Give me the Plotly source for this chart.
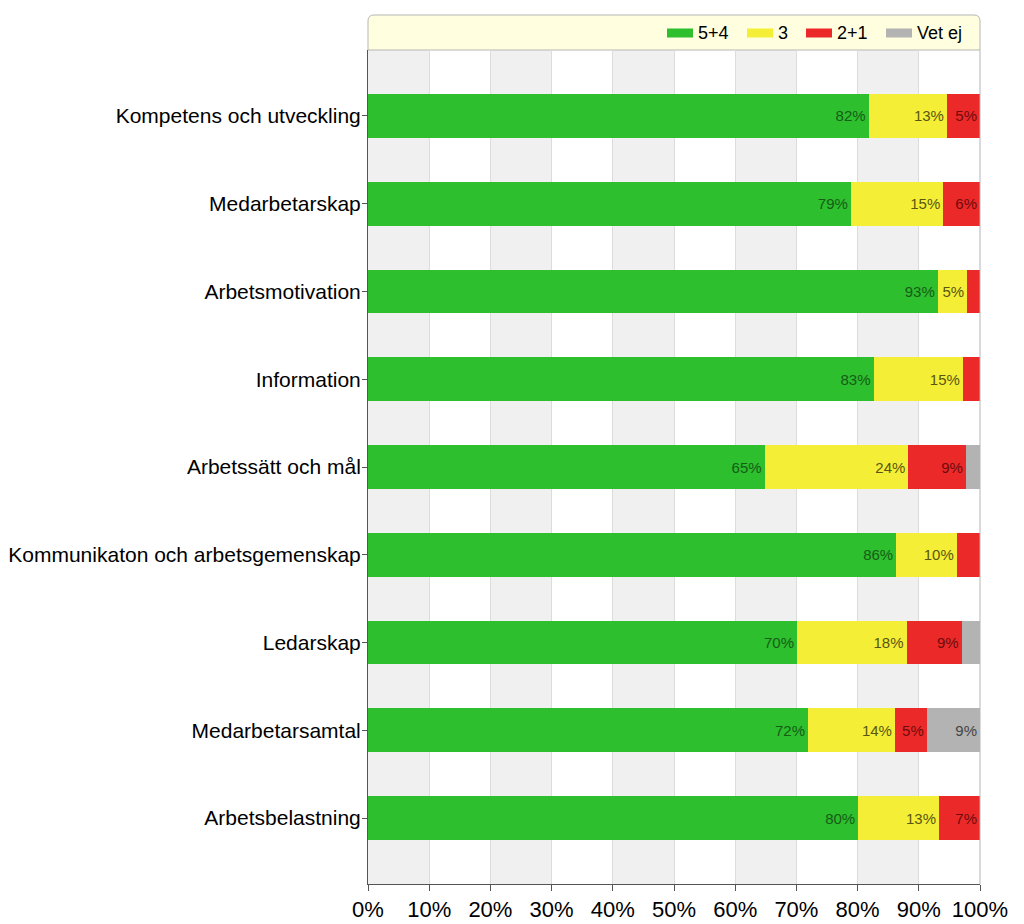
import plotly.graph_objects as go

categories = ["Kompetens och utveckling", "Medarbetarskap", "Arbetsmotivation", "Information",
              "Arbetssätt och mål", "Kommunikaton och arbetsgemenskap", "Ledarskap",
              "Medarbetarsamtal", "Arbetsbelastning"]
s54 = [81.8, 78.9, 93.1, 82.6, 64.8, 86.3, 70.1, 71.9, 80.1]
s3 = [12.8, 15.1, 4.8, 14.6, 23.5, 9.9, 17.9, 14.2, 13.2]
s21 = [5.4, 6.0, 2.1, 2.8, 9.4, 3.8, 9.0, 5.2, 6.7]
vet = [0.0, 0.0, 0.0, 0.0, 2.3, 0.0, 3.0, 8.7, 0.0]
series_names = ["5+4", "3", "2+1", "Vet ej"]
colors = ["#2dbf2d", "#f4ef36", "#ec2929", "#b3b3b3"]
text_colors = ["#175c17", "#5a5510", "#6e0c0c", "#444444"]
ticks = [0, 10, 20, 30, 40, 50, 60, 70, 80, 90, 100]
ticklabels = [f"{t}%" for t in ticks]

FONT = "Liberation Sans, Arial, sans-serif"
fig = go.Figure()
for name, vals, col, tcol in zip(series_names, [s54, s3, s21, vet], colors, text_colors):
    txt = [f"{round(v)}%" if v >= 4.5 else "" for v in vals]
    fig.add_trace(go.Bar(
        y=categories, x=vals, name=name, orientation="h",
        marker=dict(color=col, line=dict(width=0)),
        text=txt, textposition="inside", insidetextanchor="end",
        textfont=dict(color=tcol, size=15, family=FONT),
        constraintext="none", width=0.5, hoverinfo="x+name",
        showlegend=False,
    ))

PW, PH = 612.0, 834.0
def px(x):
    return (x - 368) / PW
def py(y):
    return (884 - y) / PH

shapes = []
for i in range(0, 100, 20):
    shapes.append(dict(type="rect", xref="x", yref="paper", x0=i, x1=i + 10, y0=0, y1=1,
                       fillcolor="#f0f0f0", line=dict(width=0), layer="below"))
r = 6
x0, x1, y0, y1 = px(368), px(980), py(50), py(15)
rx, ry = r / PW, r / PH
path = (f"M{x0},{y0} L{x0},{y1 - ry} Q{x0},{y1} {x0 + rx},{y1} L{x1 - rx},{y1} "
        f"Q{x1},{y1} {x1},{y1 - ry} L{x1},{y0} Z")
shapes.append(dict(type="path", xref="paper", yref="paper", path=path,
                   fillcolor="#ffffe0", line=dict(color="#b5b5b5", width=1), layer="below"))
shapes.append(dict(type="line", xref="paper", yref="paper", x0=1, x1=1, y0=0, y1=1,
                   line=dict(color="#b5b5b5", width=1)))

annotations = []
leg_sym_x = [667, 747, 806, 886]
for name, col, sx in zip(series_names, colors, leg_sym_x):
    shapes.append(dict(type="rect", xref="paper", yref="paper", x0=px(sx), x1=px(sx + 26),
                       y0=py(37.5), y1=py(28.5), fillcolor=col, line=dict(width=0)))
    annotations.append(dict(x=px(sx + 29), y=py(33), xref="paper", yref="paper", text=name,
                            showarrow=False, xanchor="left", yanchor="middle",
                            font=dict(size=18, family=FONT, color="black")))

fig.update_layout(
    barmode="stack",
    width=1024, height=924,
    margin=dict(l=368, r=44, t=50, b=40),
    paper_bgcolor="white", plot_bgcolor="white",
    font=dict(family=FONT, color="black"),
    shapes=shapes, annotations=annotations,
    showlegend=False,
    xaxis=dict(range=[0, 100], tickvals=ticks, ticktext=ticklabels,
               showgrid=True, gridcolor="#dcdcdc", gridwidth=1,
               showline=True, linecolor="#555555", linewidth=1,
               ticks="outside", ticklen=6, tickcolor="#555555", automargin=False,
               tickfont=dict(size=22, family=FONT), zeroline=False, fixedrange=True),
    yaxis=dict(categoryorder="array", categoryarray=categories,
               range=[8.752, -0.752], showgrid=False, automargin=False,
               showline=True, linecolor="#555555", linewidth=1,
               ticks="outside", ticklen=5, tickcolor="#555555", ticklabelstandoff=-3,
               tickfont=dict(size=21, family=FONT)),
)
fig.write_html("out.html")
